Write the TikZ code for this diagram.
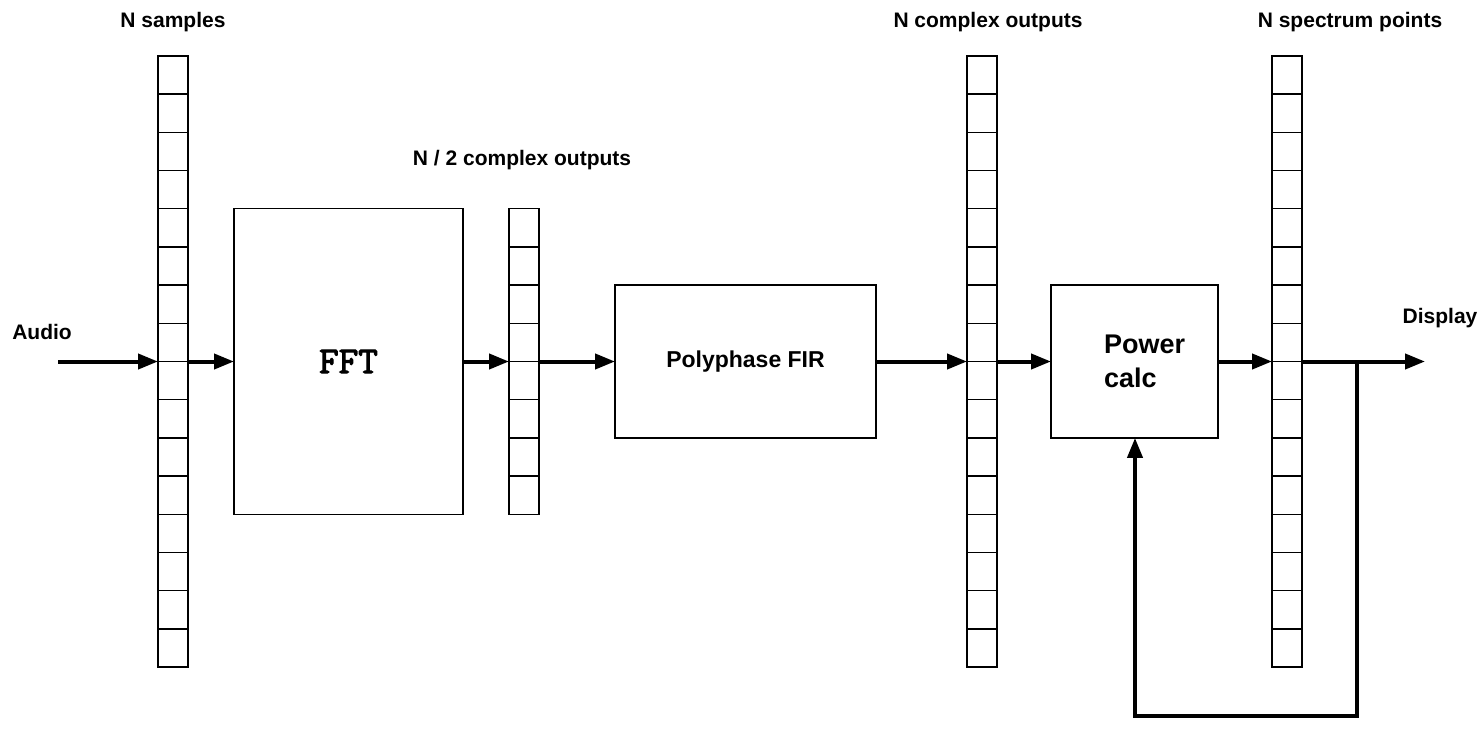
\documentclass[tikz,border=0pt]{standalone}
\usepackage{fontspec}
\setmainfont{Liberation Sans}
\newfontfamily\monoB[FakeBold=3]{Latin Modern Mono}
\usetikzlibrary{arrows.meta, positioning}
\definecolor{lineK}{HTML}{000000}
\tikzset{
  arrowK/.style={-{Triangle[length=10pt, width=7.5pt]}, lineK, line width=2pt},
  buf/.style={rectangle, draw=lineK, line width=0.75pt, inner sep=0pt,
              outer sep=0pt, minimum width=15pt},
  blockA/.style={rectangle, draw=lineK, line width=0.75pt, inner sep=0pt,
                 outer sep=0pt, align=left},
  lbl/.style={font=\fontsize{10.5}{12}\selectfont\bfseries, inner sep=0pt},
}
% cell dividers of a buffer: name, number of cells
\newcommand{\bufcells}[2]{%
  \foreach \i in {1,...,\numexpr#2-1\relax}
    \draw[line width=0.75pt]
      ([yshift=-\i*19.1pt]#1.north west) -- ([yshift=-\i*19.1pt]#1.north east);}

\begin{document}
\begin{tikzpicture}[x=0.5pt, y=-0.5pt]
    \useasboundingbox (0,0) rectangle (1482,744);
    \node[buf, minimum height=305.6pt] (samp) at (173,361.5) {};
    \node[blockA, minimum width=114.5pt, minimum height=152.8pt,
          right=23pt of samp, font=\monoB\fontsize{19}{21}\selectfont]
      (fft) {FFT};
    \node[buf, minimum height=152.8pt, right=23pt of fft] (half) {};
    \node[blockA, minimum width=130.5pt, minimum height=76.4pt,
          right=38pt of half, font=\fontsize{11.5}{13}\selectfont\bfseries]
      (fir) {Polyphase FIR};
    \node[buf, minimum height=305.6pt, right=45.5pt of fir] (cplx) {};
    \node[blockA, minimum width=83.5pt, minimum height=76.4pt,
          right=27pt of cplx, font=\fontsize{13.5}{17}\selectfont\bfseries]
      (pow) {\hspace*{10pt}Power\\\hspace*{10pt}calc};
    \node[buf, minimum height=305.6pt, right=27pt of pow] (spec) {};
    \bufcells{samp}{16} \bufcells{half}{8}
    \bufcells{cplx}{16} \bufcells{spec}{16}

    \node[lbl] (lsamp) at (173,22) {N samples};
    \node[lbl] (lhalf) at (522,160) {N / 2 complex outputs};
    \node[lbl] (lcplx) at (988,22) {N complex outputs};
    \node[lbl] (lspec) at (1350,22) {N spectrum points};
    \node[lbl] (laud) at (42,332) {Audio};
    \node[lbl] (ldisp) at (1440,318) {Display};

    \coordinate (aud) at (58,361.5);
    \coordinate (disp) at (1425,361.5);
    \coordinate (tap) at (1357,361.5);
    \coordinate (fb) at (1135,716);
    \draw[arrowK] (aud) -- (samp.west);
    \draw[arrowK] (samp.east) -- (fft.west);
    \draw[arrowK] (fft.east) -- (half.west);
    \draw[arrowK] (half.east) -- (fir.west);
    \draw[arrowK] (fir.east) -- (cplx.west);
    \draw[arrowK] (cplx.east) -- (pow.west);
    \draw[arrowK] (pow.east) -- (spec.west);
    \draw[arrowK] (spec.east) -- (disp);
    \draw[arrowK, line join=miter] (tap) |- (fb) -- (fb |- pow.south);
  \end{tikzpicture}
\end{document}
